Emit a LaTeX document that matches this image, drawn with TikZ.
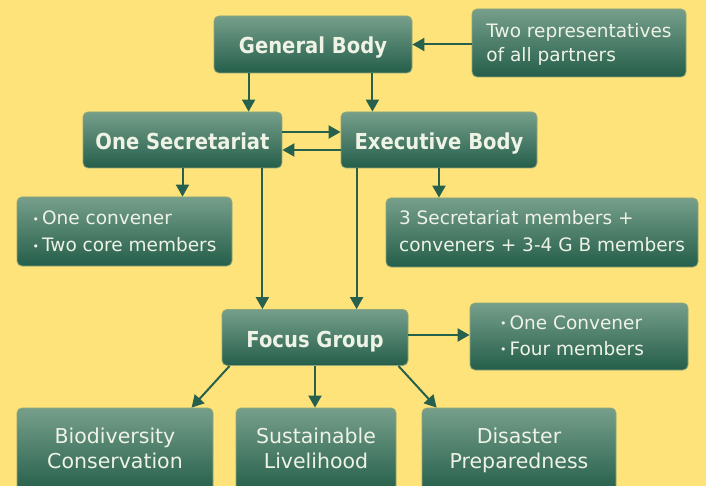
\documentclass[tikz,border=0pt]{standalone}
\usepackage{fontspec}
\setmainfont{DejaVu Sans}
\newfontfamily\titlefont{DejaVu Sans Bold}[FakeStretch=0.89]
\usetikzlibrary{arrows.meta,calc}
\definecolor{bgyellow}{HTML}{FDE37A}
\definecolor{boxtop}{HTML}{769F8B}
\definecolor{boxbot}{HTML}{245E4A}
\definecolor{boxedge}{HTML}{8EA579}
\definecolor{arrowgreen}{HTML}{27604C}
\definecolor{txt}{HTML}{EEF3E6}
\newcommand{\bul}{{\fontsize{11}{11}\selectfont\raisebox{0.15em}{•}}\,}
\newcommand{\Lt}[1]{\begin{tabular}[t]{@{}l@{}}#1\end{tabular}}
\newcommand{\Ct}[1]{\begin{tabular}[t]{@{}c@{}}#1\end{tabular}}
\begin{document}
\begin{tikzpicture}[x=1pt,y=-1pt,
  gbox/.style={draw=boxedge, line width=0.8pt, rounded corners=5pt,
    top color=boxtop, bottom color=boxbot, text=txt, inner sep=0pt,
    text height=0pt},
  titlebox/.style={gbox, font=\fontsize{22}{24}\titlefont, text height=19pt, text depth=0pt},
  smallbox/.style={gbox, font=\fontsize{18.5}{27}\selectfont, text depth=#1},
  bigbox/.style={gbox, font=\fontsize{20.5}{25}\selectfont, text depth=15pt},
  arr/.style={draw=arrowgreen, line width=2pt, -{Triangle[length=12pt,width=13pt]}}]
\fill[bgyellow] (0,0) rectangle (706,486);
\useasboundingbox (0,0) rectangle (706,486);

\node[titlebox, minimum width=198pt, minimum height=57pt] (gb) at (313,44.5) {General Body};
\node[smallbox=10pt, font=\fontsize{18.5}{24}\selectfont, minimum width=214pt, minimum height=68pt] (reps) at (579,43) {\Lt{Two representatives\\of all partners}};
\node[titlebox, minimum width=199pt, minimum height=56pt] (osec) at (182.5,140) {One Secretariat};
\node[titlebox, minimum width=196pt, minimum height=56pt] (exec) at (439,140) {Executive Body};
\node[smallbox=13pt, minimum width=215pt, minimum height=69pt] (conv) at (124.5,231.5) {\Lt{\bul One convener\\\bul Two core members}};
\node[smallbox=15pt, minimum width=312pt, minimum height=69pt] (sec3) at (542,232.5) {\Lt{3 Secretariat members +\\conveners + 3-4 G B members}};
\node[titlebox, minimum width=186pt, minimum height=56pt] (fg) at (315,337.5) {Focus Group};
\node[smallbox=14pt, font=\fontsize{18.5}{26}\selectfont, minimum width=218pt, minimum height=67pt] (oconv) at (579,336.5) {\Lt{\bul One Convener\\\bul Four members}\hspace*{14pt}};
\node[bigbox, minimum width=196pt, minimum height=85pt] (bio) at (115,450.5) {\Ct{Biodiversity\\Conservation}};
\node[bigbox, minimum width=160pt, minimum height=85pt] (sust) at (316,450.5) {\Ct{Sustainable\\Livelihood}};
\node[bigbox, minimum width=194pt, minimum height=85pt] (dis) at (519,450.5) {\Ct{Disaster\\Preparedness}};

\draw[arr] ([yshift=-1.5pt]reps.west) -- ([yshift=-1.5pt]reps.west -| gb.east);
\draw[arr] ([xshift=35pt]gb.south west) -- ([xshift=35pt]gb.south west |- osec.north);
\draw[arr] ([xshift=-40pt]gb.south east) -- ([xshift=-40pt]gb.south east |- exec.north);
\draw[arr] ([yshift=8pt]osec.east) -- ([yshift=8pt]osec.east -| exec.west);
\draw[arr] ([yshift=-10pt]exec.west) -- ([yshift=-10pt]exec.west -| osec.east);
\draw[arr] (osec.south) -- (osec.south |- conv.north);
\draw[arr] (exec.south) -- (exec.south |- sec3.north);
\draw[arr] ([xshift=-20pt]osec.south east) -- ([xshift=-20pt]osec.south east |- fg.north);
\draw[arr] ([xshift=16pt]exec.south west) -- ([xshift=16pt]exec.south west |- fg.north);
\draw[arr] ([yshift=2.5pt]fg.east) -- ([yshift=2.5pt]fg.east -| oconv.west);
\draw[arr] ([xshift=8pt]fg.south west) -- ([xshift=175pt]bio.north west);
\draw[arr] (fg.south) -- (fg.south |- sust.north);
\draw[arr] ([xshift=-10pt]fg.south east) -- ([xshift=15pt]dis.north west);
\end{tikzpicture}
\end{document}
